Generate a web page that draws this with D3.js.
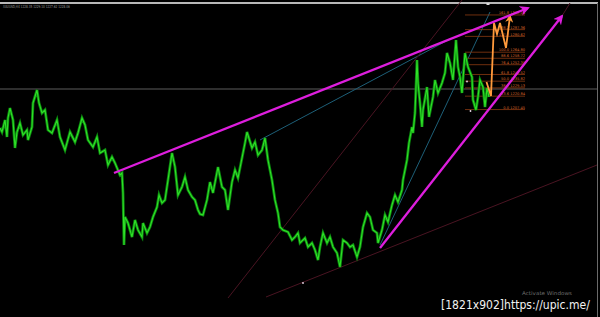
<!DOCTYPE html>
<html><head><meta charset="utf-8">
<script src="https://cdn.jsdelivr.net/npm/d3@7"></script>
<style>html,body{margin:0;padding:0;background:#000;overflow:hidden}</style>
</head><body>
<svg id="c" width="600" height="317"></svg>
<script>
// ---- data (bar number, price) ----
const barIdx = [0,1,2.5,3.5,4,5,6.5,7.5,8.5,10,11.5,13.5,14,16,16.5,18.5,19.5,21,22.5,24,26,28.5,30,32.5,35,37.5,39,41,42.5,44,46.5,48.5,50,52.5,54,56,57.5,60,61,61.5,62,62.5,64,66,67.5,69,71,71.5,73.5,75,76.5,78.5,79.5,81,82.5,84,86,87.5,89,91,92.5,94,96,97.5,99,100,101.5,103.5,105,106.5,109,111,112.5,114,116,117.5,119,121,122.5,123.5,126,127.5,129,131,132.5,134,136,137.5,139,140,141.5,144,146,147.5,149,150,152.5,154,156,157.5,159,160,161.5,163.5,165,166.5,168.5,170,171.5,173.5,175,176.5,178.5,180,181.5,183.5,185,186.5,188.5,189,191,192.5,194,196,197.5,199,201,201.5,203.5,204.5,206,206.5,207.5,208.5,209,210,211,211.5,213.5,214.5,216.5,217.5,219,221,222.5,223.5,225,226.5,228,229,230,231,232.5,234,236,236.5,238,239,240,241.5,242.5,243.5,244.5];
const closePrice = [1189,1185,1197,1180,1199,1209,1197,1169,1185,1194,1182,1187,1177,1190,1214,1227,1214,1204,1207,1187,1184,1197,1180,1167,1185,1175,1184,1199,1192,1177,1170,1180,1164,1167,1152,1160,1154,1142,1144,1124,1072,1100,1094,1080,1097,1087,1080,1094,1084,1090,1100,1110,1122,1114,1117,1137,1164,1150,1122,1130,1140,1127,1120,1117,1107,1103,1102,1117,1135,1124,1150,1130,1127,1107,1135,1147,1139,1159,1174,1185,1169,1175,1162,1167,1179,1157,1137,1117,1104,1090,1087,1085,1077,1080,1084,1074,1079,1070,1074,1067,1057,1070,1084,1074,1080,1070,1064,1050,1077,1074,1070,1072,1060,1070,1090,1104,1100,1087,1084,1074,1087,1102,1095,1112,1122,1115,1127,1137,1157,1174,1190,1184,1204,1257,1234,1214,1190,1207,1230,1200,1220,1237,1224,1234,1244,1264,1254,1237,1277,1250,1240,1224,1264,1250,1240,1217,1207,1220,1237,1230,1210,1229,1220];

const projBars  = [243.25,245.5,247,248.5,250,253,255];
const projPrice = [1235,1221,1294,1283,1294,1269,1301];

const fibLevels = ["0.0","23.6","38.2","50.0","61.8","76.4","88.6","100.0","127.2","138.2","161.8"];
const fibPrices = [1207.45,1220.84,1229.13,1235.82,1242.52,1252.30,1258.72,1264.80,1280.62,1287.36,1302.04];
const fibStartBar = 232.5, fibEndBar = 262.5;

const trendKind       = ["magenta","magenta","teal","teal","maroon","maroon","maroon"];
const trendStartBar   = [57,190,130,190,114,133,281];
const trendStartPrice = [1144,1069,1177,1072,1019,1020,1301];
const trendEndBar     = [264,281,225,245,231,298.5,285];
const trendEndPrice   = [1309,1301,1278,1305,1317,1152,1314];

const currentPrice = 1228;
const dotBars   = [151.5,233.5,235.25];
const dotPrices = [1034,1235.5,1206];

const headerText = "XAUUSD,H4  1228.35 1229.10 1227.62 1228.06";

// ---- drawing ----
const svg = d3.select("#c");
const x = d3.scaleLinear().domain([0,300]).range([0,600]);
const y = d3.scaleLinear().domain([1000,1317]).range([317,0]);

svg.append("rect").attr("width",600).attr("height",317).attr("fill","#000");

const defs = svg.append("defs");
function marker(id,color,size){
  defs.append("marker").attr("id",id).attr("viewBox","0 0 10 10").attr("refX",8).attr("refY",5)
    .attr("markerWidth",size).attr("markerHeight",size).attr("orient","auto").attr("markerUnits","userSpaceOnUse")
    .append("path").attr("d","M0,0 L10,5 L0,10 L3,5 Z").attr("fill",color);
}
marker("arrM","#dd1edd",10);
marker("arrO","#ff9a3c",8);

// squeezed text helper (keeps real bounding box)
function fitText(tx,ty,size,width,fill,str){
  const t = svg.append("text").attr("font-family","DejaVu Sans").attr("font-size",size)
    .attr("fill",fill).text(str);
  const w = t.node().getComputedTextLength();
  t.attr("transform",`translate(${tx},${ty}) scale(${width/w},1)`);
  return t;
}

// top bar and right border
svg.append("rect").attr("x",0).attr("y",2).attr("width",598).attr("height",2).attr("fill","#b8b8b8");
svg.append("line").attr("x1",597.5).attr("x2",597.5).attr("y1",3).attr("y2",317).attr("stroke","#6a6a6a").attr("stroke-width",1);
fitText(3,8,4,67,"#9a9a9a",headerText);
svg.append("rect").attr("x",486.5).attr("y",3).attr("width",3).attr("height",2).attr("fill","#ddd");

// current price line
svg.append("line").attr("x1",0).attr("x2",597).attr("y1",y(currentPrice)).attr("y2",y(currentPrice))
  .attr("stroke","#5c5c5c").attr("stroke-width",1);

// thin trend lines
const thinColor = {teal:"#1d5f78", maroon:"#4a1422"};
trendKind.forEach((k,i)=>{
  if(k==="magenta") return;
  svg.append("line").attr("x1",x(trendStartBar[i])).attr("y1",y(trendStartPrice[i]))
    .attr("x2",x(trendEndBar[i])).attr("y2",y(trendEndPrice[i]))
    .attr("stroke",thinColor[k]).attr("stroke-width",1);
});

// fibonacci levels
fibPrices.forEach((p,i)=>{
  svg.append("line").attr("x1",x(fibStartBar)).attr("x2",x(fibEndBar)).attr("y1",y(p)).attr("y2",y(p))
    .attr("stroke","#8a3a12").attr("stroke-width",0.8);
  svg.append("text").attr("x",x(fibEndBar)).attr("y",y(p)-0.8).attr("text-anchor","end")
    .attr("font-family","DejaVu Sans").attr("font-size",3.6).attr("fill","#d8642a")
    .text(fibLevels[i]+" "+p.toFixed(2));
});

// price series
const line = d3.line().x(d=>x(d[0])).y(d=>y(d[1]));
const pts = barIdx.map((b,i)=>[b,closePrice[i]]);
svg.append("path").attr("d",line(pts)).attr("fill","none").attr("stroke","#0b870e").attr("stroke-width",2.8).attr("stroke-linejoin","miter");
svg.append("path").attr("d",line(pts)).attr("fill","none").attr("stroke","#30e028").attr("stroke-width",1.1);

// projection
const proj = projBars.map((b,i)=>[b,projPrice[i]]);
svg.append("path").attr("d",line(proj)).attr("fill","none").attr("stroke","#ff9a3c").attr("stroke-width",1.8)
  .attr("marker-end","url(#arrO)");

// magenta trend lines
trendKind.forEach((k,i)=>{
  if(k!=="magenta") return;
  svg.append("line").attr("x1",x(trendStartBar[i])).attr("y1",y(trendStartPrice[i]))
    .attr("x2",x(trendEndBar[i])).attr("y2",y(trendEndPrice[i]))
    .attr("stroke","#dd1edd").attr("stroke-width",2.3).attr("marker-end","url(#arrM)");
});

// small dots
dotBars.forEach((b,i)=>{
  svg.append("circle").attr("cx",x(b)).attr("cy",y(dotPrices[i])).attr("r",0.9).attr("fill","#e8d8e8");
});

// watermarks
fitText(522,295,5.2,50,"#6e6e6e","Activate Windows");
fitText(441,309,13,149,"#f2f2f2","[1821x902]https://upic.me/");
</script>
</body></html>
